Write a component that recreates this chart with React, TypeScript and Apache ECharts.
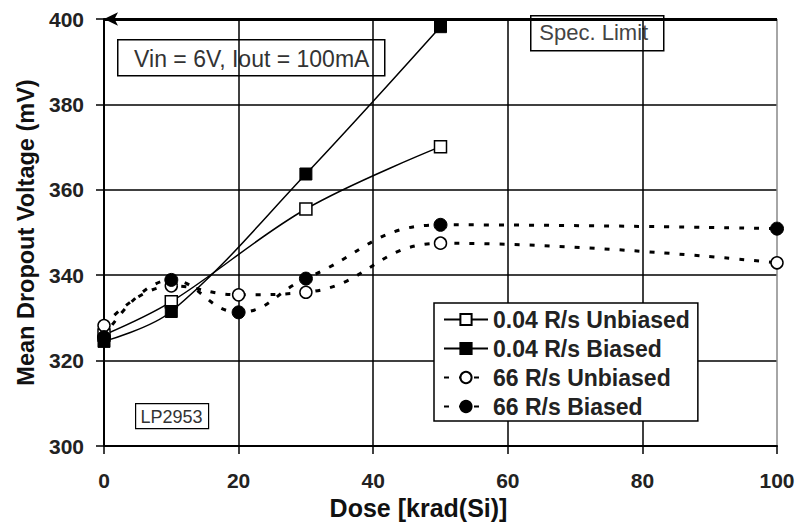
import React, { useEffect, useRef } from "react";
import * as echarts from "echarts";

const doseSlow = [0, 10, 30, 50];
const slowUnbiased = [326, 333.8, 355.5, 370.1];
const slowBiased = [324.5, 331.5, 363.7, 398.2];
const doseFast = [0, 10, 20, 30, 50, 100];
const fastUnbiased = [328.2, 337.5, 335.4, 336.0, 347.5, 342.9];
const fastBiased = [325.5, 338.9, 331.3, 339.2, 351.8, 350.9];
const seriesNames = ["0.04 R/s Unbiased", "0.04 R/s Biased", "66 R/s Unbiased", "66 R/s Biased"];
const xTicks = { min: 0, max: 100, interval: 20 };
const yTicks = { min: 300, max: 400, interval: 20 };
const specLimit = 400;

const pairs = (xs: number[], ys: number[]) => xs.map((x, i) => [x, ys[i]]);

export default function App() {
  const ref = useRef<HTMLDivElement>(null);
  useEffect(() => {
    document.body.style.margin = "0";
    const chart = echarts.init(ref.current!, null, { renderer: "svg" });
    const font = "Liberation Sans, Arial, sans-serif";
    const dotted = [5, 10];
    chart.setOption({
      animation: false,
      backgroundColor: "#fff",
      grid: { left: 104, right: 21, top: 19, bottom: 80 },
      xAxis: {
        type: "value",
        min: xTicks.min,
        max: xTicks.max,
        interval: xTicks.interval,
        name: "Dose [krad(Si)]",
        nameLocation: "middle",
        nameGap: 45,
        nameTextStyle: { fontFamily: font, fontWeight: "bold", fontSize: 25, color: "#111", padding: [0, 44, 0, 0] },
        axisLine: { lineStyle: { color: "#000", width: 2 } },
        axisTick: { show: true, length: 8, lineStyle: { color: "#000", width: 1.5 } },
        axisLabel: { fontFamily: font, fontWeight: "bold", fontSize: 21, color: "#222", margin: 24 },
        splitLine: { show: true, lineStyle: { color: ["#000", "#000", "#000", "#000", "#000", "#888"], width: 1.5 } },
      },
      yAxis: {
        type: "value",
        min: yTicks.min,
        max: yTicks.max,
        interval: yTicks.interval,
        name: "Mean Dropout Voltage (mV)",
        nameLocation: "middle",
        nameGap: 64,
        nameTextStyle: { fontFamily: font, fontWeight: "bold", fontSize: 23.5, color: "#111" },
        axisLine: { lineStyle: { color: "#000", width: 2 } },
        axisTick: { show: true, length: 8, lineStyle: { color: "#000", width: 1.5 } },
        axisLabel: { fontFamily: font, fontWeight: "bold", fontSize: 21, color: "#222", margin: 20 },
        splitLine: { show: true, lineStyle: { color: "#000", width: 1.5 } },
      },
      legend: {
        orient: "vertical",
        left: 434,
        top: 303,
        width: 268,
        padding: [5, 8, 3, 9],
        itemGap: 6,
        itemWidth: 44,
        itemHeight: 14,
        backgroundColor: "#fff",
        borderColor: "#000",
        borderWidth: 1.5,
        borderRadius: 0,
        textStyle: { fontFamily: font, fontWeight: "bold", fontSize: 23, color: "#222" },
        data: seriesNames,
      },
      series: [
        {
          name: seriesNames[0],
          type: "line",
          smooth: 0.35,
          data: pairs(doseSlow, slowUnbiased),
          symbol: "rect",
          symbolSize: 12,
          lineStyle: { color: "#000", width: 1.5 },
          itemStyle: { color: "#fff", borderColor: "#000", borderWidth: 1.5 },
          z: 3,
          markLine: {
            silent: true,
            symbol: ["arrow", "none"],
            symbolSize: [10, 14],
            label: { show: false },
            lineStyle: { color: "#000", width: 3, type: "solid" },
            data: [{ yAxis: specLimit }],
          },
        },
        {
          name: seriesNames[1],
          type: "line",
          smooth: 0.35,
          data: pairs(doseSlow, slowBiased),
          symbol: "rect",
          symbolSize: 12,
          lineStyle: { color: "#000", width: 1.5 },
          itemStyle: { color: "#000", borderColor: "#000", borderWidth: 1 },
          z: 4,
        },
        {
          name: seriesNames[2],
          type: "line",
          smooth: 0.45,
          data: pairs(doseFast, fastUnbiased),
          symbol: "circle",
          symbolSize: 12,
          lineStyle: { color: "#000", width: 3, type: dotted },
          itemStyle: { color: "#fff", borderColor: "#000", borderWidth: 1.5 },
          z: 5,
        },
        {
          name: seriesNames[3],
          type: "line",
          smooth: 0.45,
          data: pairs(doseFast, fastBiased),
          symbol: "circle",
          symbolSize: 13,
          lineStyle: { color: "#000", width: 3, type: dotted },
          itemStyle: { color: "#000", borderColor: "#000", borderWidth: 1 },
          z: 6,
        },
      ],
      graphic: [
        {
          type: "group",
          left: 117,
          top: 39,
          children: [
            { type: "rect", shape: { x: 0, y: 0, width: 267, height: 36 }, style: { fill: "#fff", stroke: "#000", lineWidth: 1.5 } },
            { type: "text", x: 134, y: 19, style: { text: "Vin = 6V, Iout = 100mA", fontFamily: font, fontSize: 23, fill: "#333", align: "center", verticalAlign: "middle" } },
          ],
        },
        {
          type: "group",
          left: 530,
          top: 15,
          z: 20,
          children: [
            { type: "rect", shape: { x: 0, y: 0, width: 133, height: 35 }, style: { fill: "#fff", stroke: "#000", lineWidth: 1.5 } },
            { type: "text", x: 63, y: 17, style: { text: "Spec. Limit", fontFamily: font, fontSize: 22, fill: "#444", align: "center", verticalAlign: "middle" } },
          ],
        },
        {
          type: "group",
          left: 135,
          top: 403,
          children: [
            { type: "rect", shape: { x: 0, y: 0, width: 73, height: 25 }, style: { fill: "#fff", stroke: "#000", lineWidth: 1.2 } },
            { type: "text", x: 36, y: 13, style: { text: "LP2953", fontFamily: font, fontSize: 18, fill: "#333", align: "center", verticalAlign: "middle" } },
          ],
        },
      ],
    });
    return () => chart.dispose();
  }, []);
  return <div ref={ref} style={{ width: 798, height: 526 }} />;
}
